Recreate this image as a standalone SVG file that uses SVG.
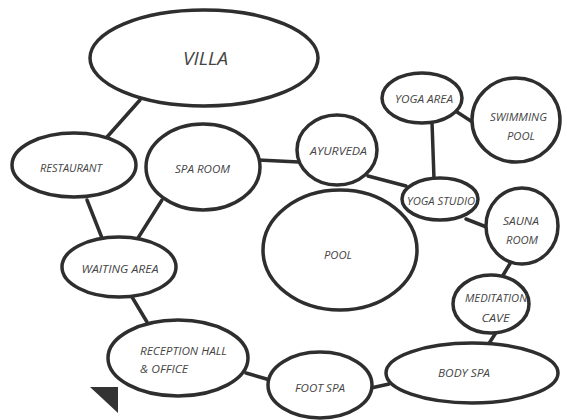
<svg xmlns="http://www.w3.org/2000/svg" width="567" height="420" viewBox="0 0 567 420">
<style>
.n{fill:#fff;stroke:#2e2e2e;stroke-width:3.5}
.c line{stroke:#2e2e2e;stroke-width:3.5;stroke-linecap:round}
text{font-family:"Open Sans","DejaVu Sans",sans-serif;font-style:italic;font-size:11px;fill:#454545;text-anchor:middle}
.big{font-size:18px}
.l{text-anchor:start}
</style>
<rect width="567" height="420" fill="#fff"/>
<g id="connectors" class="c">
<line x1="140" y1="100" x2="107" y2="137"/>
<line x1="258" y1="160" x2="299" y2="162"/>
<line x1="87" y1="200" x2="102" y2="238"/>
<line x1="162" y1="200" x2="138" y2="238"/>
<line x1="132" y1="297" x2="147" y2="322"/>
<line x1="246" y1="373" x2="270" y2="380"/>
<line x1="371" y1="388" x2="389" y2="384"/>
<line x1="368" y1="176" x2="406" y2="186"/>
<line x1="432" y1="122" x2="434" y2="179"/>
<line x1="457" y1="112" x2="474" y2="123"/>
<line x1="466" y1="219" x2="489" y2="228"/>
<line x1="511" y1="262" x2="502" y2="277"/>
<line x1="497" y1="331" x2="488" y2="345"/>
</g>
<g id="villa"><ellipse class="n" cx="204" cy="58" rx="114" ry="48"/><text class="big" x="205.5" y="65" textLength="45" lengthAdjust="spacingAndGlyphs">VILLA</text></g>
<g id="restaurant"><ellipse class="n" cx="74" cy="165" rx="62" ry="32"/><text x="71" y="172" textLength="62" lengthAdjust="spacingAndGlyphs">RESTAURANT</text></g>
<g id="spa-room"><ellipse class="n" cx="203" cy="167" rx="57" ry="43"/><text x="202.5" y="173" textLength="55" lengthAdjust="spacingAndGlyphs">SPA ROOM</text></g>
<g id="ayurveda"><ellipse class="n" cx="337" cy="150" rx="40" ry="35"/><text x="338.5" y="155" textLength="57" lengthAdjust="spacingAndGlyphs">AYURVEDA</text></g>
<g id="yoga-area"><ellipse class="n" cx="422" cy="98" rx="40" ry="25"/><text x="424" y="103" textLength="58" lengthAdjust="spacingAndGlyphs">YOGA AREA</text></g>
<g id="swimming-pool"><ellipse class="n" cx="516" cy="120" rx="44" ry="42"/><text x="518.5" y="121" textLength="57" lengthAdjust="spacingAndGlyphs">SWIMMING</text><text x="521" y="140" textLength="28" lengthAdjust="spacingAndGlyphs">POOL</text></g>
<g id="yoga-studio"><ellipse class="n" cx="440" cy="199" rx="38" ry="21"/><text x="441" y="205" textLength="68" lengthAdjust="spacingAndGlyphs">YOGA STUDIO</text></g>
<g id="sauna-room"><ellipse class="n" cx="522" cy="226" rx="36" ry="38"/><text x="521" y="225" textLength="36" lengthAdjust="spacingAndGlyphs">SAUNA</text><text x="522" y="244" textLength="32" lengthAdjust="spacingAndGlyphs">ROOM</text></g>
<g id="pool"><ellipse class="n" cx="340" cy="250" rx="77" ry="60"/><text x="338" y="259" textLength="28" lengthAdjust="spacingAndGlyphs">POOL</text></g>
<g id="meditation-cave"><ellipse class="n" cx="491" cy="304" rx="38" ry="29"/><text x="496" y="302" textLength="62" lengthAdjust="spacingAndGlyphs">MEDITATION</text><text x="495.5" y="322" textLength="28" lengthAdjust="spacingAndGlyphs">CAVE</text></g>
<g id="body-spa"><ellipse class="n" cx="472" cy="373" rx="86" ry="30"/><text x="464" y="377" textLength="52" lengthAdjust="spacingAndGlyphs">BODY SPA</text></g>
<g id="foot-spa"><ellipse class="n" cx="320" cy="385" rx="52" ry="33"/><text x="320" y="392" textLength="50" lengthAdjust="spacingAndGlyphs">FOOT SPA</text></g>
<g id="reception"><ellipse class="n" cx="178" cy="358" rx="70" ry="38"/><text class="l" x="140" y="355" textLength="87" lengthAdjust="spacingAndGlyphs">RECEPTION HALL</text><text class="l" x="140" y="373" textLength="48" lengthAdjust="spacingAndGlyphs">&amp; OFFICE</text></g>
<g id="waiting-area"><ellipse class="n" cx="119" cy="267" rx="57" ry="30"/><text x="120" y="273" textLength="77" lengthAdjust="spacingAndGlyphs">WAITING AREA</text></g>
<polygon points="90,387 118,387 118,413" fill="#333"/>
</svg>
